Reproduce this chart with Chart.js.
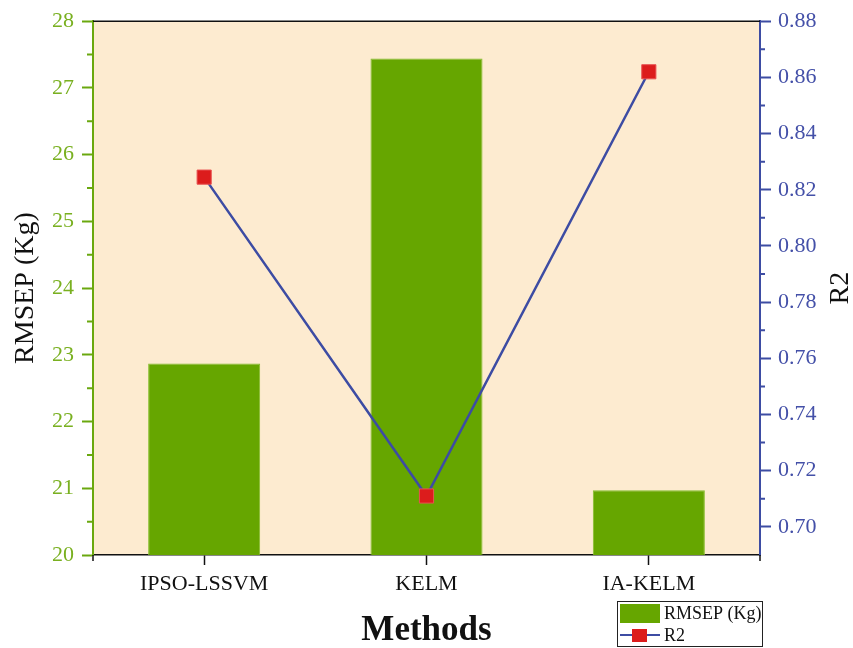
<!DOCTYPE html>
<html>
<head>
<meta charset="utf-8">
<script src="https://cdn.jsdelivr.net/npm/chart.js@4"></script>
<style>
  body { margin: 0; background: #fff; }
  #wrap { width: 853px; height: 648px; }
</style>
</head>
<body>
<div id="wrap"><canvas id="chart"></canvas></div>
<script>
'use strict';
// data
const methods = ['IPSO-LSSVM', 'KELM', 'IA-KELM'];
const rmsep = [22.87, 27.44, 20.97];
const r2 = [0.8245, 0.711, 0.862];
const rmsepTicks = [20, 21, 22, 23, 24, 25, 26, 27, 28];
const r2Ticks = [0.70, 0.72, 0.74, 0.76, 0.78, 0.80, 0.82, 0.84, 0.86, 0.88];

const serif = "'Liberation Serif', 'Times New Roman', serif";
const green = '#6aa80f', blue = '#3d4ca3';

const decor = {
  id: 'decor',
  beforeDraw(c) {
    const a = c.chartArea, ctx = c.ctx;
    ctx.save();
    ctx.fillStyle = '#fdebd0';
    ctx.fillRect(a.left, a.top, a.right - a.left, a.bottom - a.top);
    ctx.restore();
  },
  afterDraw(c) {
    const a = c.chartArea, ctx = c.ctx;
    const y = c.scales.y, y1 = c.scales.y1;
    ctx.save();
    // top frame line
    ctx.strokeStyle = '#111'; ctx.lineWidth = 1.5;
    ctx.beginPath(); ctx.moveTo(a.left, a.top); ctx.lineTo(a.right, a.top); ctx.stroke();
    // x axis end ticks
    ctx.beginPath();
    ctx.moveTo(a.left, a.bottom); ctx.lineTo(a.left, a.bottom + 6);
    ctx.moveTo(a.right, a.bottom); ctx.lineTo(a.right, a.bottom + 6);
    ctx.stroke();
    // minor ticks
    ctx.lineWidth = 2;
    ctx.strokeStyle = green;
    ctx.beginPath();
    for (let i = 0; i < rmsepTicks.length - 1; i++) {
      const p = y.getPixelForValue((rmsepTicks[i] + rmsepTicks[i + 1]) / 2);
      ctx.moveTo(a.left - 6, p); ctx.lineTo(a.left, p);
    }
    ctx.stroke();
    ctx.strokeStyle = blue;
    ctx.beginPath();
    for (let i = 0; i < r2Ticks.length - 1; i++) {
      const p = y1.getPixelForValue((r2Ticks[i] + r2Ticks[i + 1]) / 2);
      ctx.moveTo(a.right, p); ctx.lineTo(a.right + 5, p);
    }
    ctx.stroke();
    // right title, reading bottom to top
    ctx.fillStyle = '#111';
    ctx.font = '28px ' + serif;
    ctx.textAlign = 'center'; ctx.textBaseline = 'middle';
    ctx.translate(841, (a.top + a.bottom) / 2);
    ctx.rotate(-Math.PI / 2);
    ctx.fillText('R2', 0, 0);
    ctx.restore();

    // legend box
    const ds = c.data.datasets;
    ctx.save();
    ctx.fillStyle = '#fff';
    ctx.fillRect(617, 601, 146, 46);
    ctx.strokeStyle = '#222'; ctx.lineWidth = 1;
    ctx.strokeRect(617.5, 601.5, 145, 45);
    ctx.fillStyle = ds[1].backgroundColor;
    ctx.fillRect(620, 604, 40, 19);
    ctx.strokeStyle = ds[0].borderColor; ctx.lineWidth = 2;
    ctx.beginPath(); ctx.moveTo(620, 635); ctx.lineTo(660, 635); ctx.stroke();
    ctx.fillStyle = ds[0].pointBackgroundColor;
    ctx.fillRect(632, 629, 15, 13);
    ctx.fillStyle = '#111';
    ctx.font = '18px ' + serif;
    ctx.textAlign = 'left'; ctx.textBaseline = 'middle';
    ctx.fillText(ds[1].label, 664, 614);
    ctx.fillText(ds[0].label, 664, 636);
    ctx.restore();
  }
};

new Chart(document.getElementById('chart'), {
  type: 'bar',
  data: {
    labels: methods,
    datasets: [
      {
        type: 'line', label: 'R2', data: r2, yAxisID: 'y1', order: 0,
        borderColor: blue, borderWidth: 2.5, tension: 0,
        pointStyle: 'rect', pointRadius: 10, pointHoverRadius: 10,
        pointBackgroundColor: '#dc1c1c', pointBorderColor: '#e85050', pointBorderWidth: 1
      },
      {
        label: 'RMSEP (Kg)', data: rmsep, yAxisID: 'y', order: 1,
        backgroundColor: '#66a600', borderColor: '#84bd2c', borderWidth: 1,
        barPercentage: 0.504, categoryPercentage: 1
      }
    ]
  },
  options: {
    responsive: true,
    maintainAspectRatio: false,
    animation: false,
    layout: { padding: { top: 19, left: 0, right: 0, bottom: 0 } },
    plugins: { legend: { display: false }, tooltip: { enabled: false } },
    scales: {
      x: {
        offset: true,
        grid: { offset: false, drawOnChartArea: false, tickLength: 10, tickColor: '#111', tickWidth: 1.5 },
        border: { color: '#111', width: 1.5 },
        ticks: { color: '#111', font: { family: serif, size: 22 }, padding: 6, maxRotation: 0 },
        title: { display: true, text: 'Methods', color: '#111', font: { family: serif, size: 35, weight: 'bold', lineHeight: 1 }, padding: { top: 0, bottom: 0 } },
        afterFit(s) { s.height = 93; }
      },
      y: {
        position: 'left', min: 20, max: 28,
        afterBuildTicks(s) { s.ticks = rmsepTicks.map(v => ({ value: v })); },
        grid: { drawOnChartArea: false, tickLength: 11, tickColor: green, tickWidth: 2 },
        border: { color: green, width: 2 },
        ticks: { color: '#79b020', font: { family: serif, size: 22 }, padding: 8 },
        title: { display: true, text: 'RMSEP (Kg)', color: '#111', font: { family: serif, size: 28, lineHeight: 1 }, padding: { top: 12, bottom: 0 } },
        afterFit(s) { s.width = 93; }
      },
      y1: {
        position: 'right', min: 0.69, max: 0.88,
        afterBuildTicks(s) { s.ticks = r2Ticks.map(v => ({ value: v })); },
        grid: { drawOnChartArea: false, tickLength: 11, tickColor: blue, tickWidth: 2 },
        border: { color: blue, width: 2 },
        ticks: { color: '#4450a8', font: { family: serif, size: 22 }, padding: 7, callback: v => v.toFixed(2) },
        afterFit(s) { s.width = 93; }
      }
    }
  },
  plugins: [decor]
});
</script>
</body>
</html>
